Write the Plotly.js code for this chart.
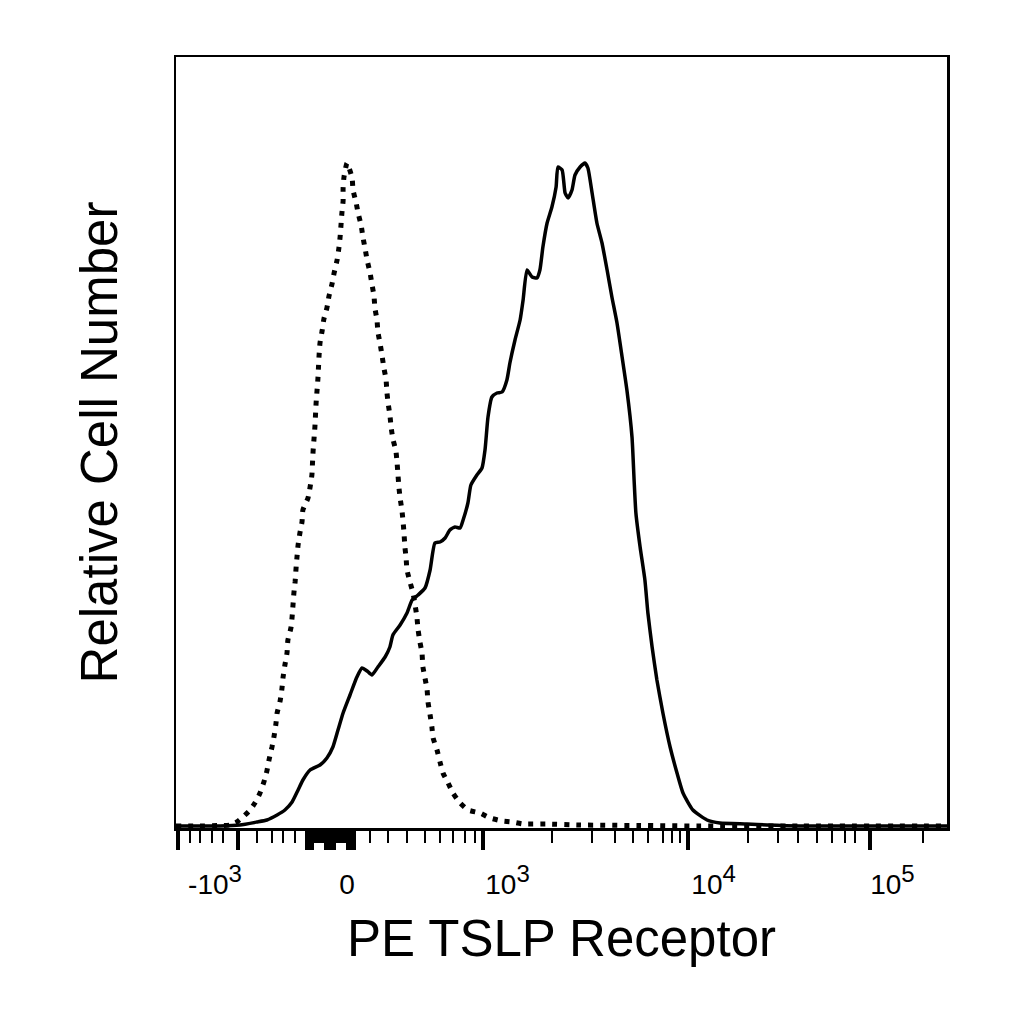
<!DOCTYPE html>
<html>
<head>
<meta charset="utf-8">
<script src="https://cdn.plot.ly/plotly-3.0.1.min.js"></script>
<style>
  html, body { margin: 0; padding: 0; background: #fff; }
  #chart { width: 1024px; height: 1024px; }
</style>
</head>
<body>
<div id="chart"></div>
<script>
// x in display channels (logicle-like scale, 0..257), y in cell counts per channel

// isotype control (dotted)
const isoX = [0, 8, 14.7, 18, 20.3, 22.3, 24.7, 26.3, 28, 29.3, 30.3, 31, 32, 32.7, 33.3, 33.7, 34.7, 35.3, 35.7, 36.3,
  37, 37.3, 38.3, 38.7, 39, 39.3, 39.7, 40, 40.3, 40.7, 41.3, 42, 42.3, 44, 44.7, 45.3, 45.5, 45.7, 46, 46.3,
  46.5, 46.7, 47, 47.3, 47.5, 47.7, 48, 48.7, 49.3, 50.3, 51, 52, 52.7, 53.7, 54.3, 54.7, 55, 55.3, 55.7, 55.7,
  56, 57, 58.7, 59, 60, 60.7, 61.7, 62.3, 63, 63.7, 64.7, 65.3, 66, 66.3, 67, 67.3, 68, 68.7, 69.3, 70,
  70.3, 70.7, 71.3, 71.7, 72.3, 73.3, 73.7, 74, 74.3, 74.7, 75.3, 75.7, 76, 76.3, 76.7, 77, 78, 79, 79.7, 80.3,
  80.7, 81.3, 82, 82.3, 83, 83.7, 84, 84.7, 85.3, 85.7, 87, 88, 89, 90.7, 92.3, 94.7, 97.3, 101.3, 104.7, 108.7,
  112, 115.7, 123.7, 134.7, 154.7, 174.7, 208, 257];
const isoY = [0.4, 0.4, 0.5, 0.6, 1.2, 2.2, 3.6, 5, 7, 9.2, 11.4, 13.6, 16.2, 18.4, 20.8, 23, 25.4, 27.8, 30.2, 32.6,
  35, 37.6, 40, 42.2, 44.6, 47, 49.2, 51.8, 54, 56.6, 59, 61.2, 63.6, 66, 68.2, 70.6, 73, 75.4, 77.8, 80.2,
  82.6, 85, 87.4, 89.8, 92.2, 94.6, 97, 99.4, 101.8, 104, 106.4, 108.8, 111, 113.6, 116, 118.2, 120.6, 123, 125.4, 128,
  130.2, 133, 130, 127.6, 125.2, 123, 120.6, 118.2, 116, 113.6, 111, 108.8, 106.4, 104, 101.6, 99.2, 97, 94.4, 92, 89.8,
  87.2, 85, 82.6, 80.2, 77.8, 75.4, 73, 70.6, 68.2, 66, 63.6, 61.2, 59, 56.2, 54, 51.6, 49.2, 47, 44.6, 42.2,
  39.6, 37.2, 35, 32.2, 30, 27.6, 25.2, 22.6, 20.2, 18, 15.6, 13.2, 11, 9, 7, 5, 3.6, 3, 2, 1.4,
  1.2, 0.8, 0.8, 0.6, 0.5, 0.4, 0.4, 0.4];

// anti-TSLP receptor stained (solid)
const stainX = [0, 14.7, 21.3, 27, 30.3, 33.7, 36.3, 38.7, 40.7, 42.3, 44.7, 48, 50.3, 52.3, 54, 55.7, 58, 60.3, 62, 63.7,
  65.3, 67.3, 69.7, 71.3, 72.3, 74.7, 77, 78.7, 80.7, 83, 84.7, 86.3, 88, 89.7, 91.3, 93, 94.7, 95.7, 97.3, 98.3,
  100.3, 102, 103, 104, 105.3, 107, 108.7, 110.3, 111.3, 113, 114.7, 115.7, 117, 118.7, 120.3, 121.3, 122.3, 123.7, 125.3, 126.7,
  127.3, 128.7, 129.7, 130.7, 132, 133, 134.7, 136.3, 137.3, 138.7, 140.3, 142, 143.7, 145.3, 147, 148.7, 150.3, 152, 152.7, 153.3,
  154.7, 156.3, 157.3, 158.7, 160.3, 162.3, 164.7, 167, 169, 172.3, 177, 181.3, 190.3, 197, 208, 257];
const stainY = [0.4, 0.4, 0.6, 1.2, 1.6, 2.6, 3.6, 5.2, 7.6, 9.6, 11.6, 12.6, 14, 16.2, 19.6, 23, 26.6, 30.2, 32, 31.4,
  30.6, 32.2, 34.2, 36.2, 38.6, 40.6, 43, 45.6, 46.6, 48, 51.6, 57, 57.2, 58, 59.6, 60.2, 60, 61.6, 65, 68.6,
  70.6, 72, 75.6, 82.2, 86.2, 87, 87.2, 89.6, 93, 97.6, 101.6, 105.6, 111.6, 110.2, 110, 111.6, 116.2, 121, 124.2, 128.2,
  132.2, 131.6, 127, 126, 127.6, 130.6, 132.2, 133, 132, 127, 121, 117, 111.6, 106.2, 101, 94.2, 87.6, 78.2, 69.6, 63,
  56.2, 49.6, 43, 36.2, 29.6, 23, 16.2, 11, 7, 3.6, 1.6, 1, 0.8, 0.6, 0.4, 0.4];

// axis decorations (channel positions of the logicle ticks)
const majorTicks = [0.7, 20.7, 43.8, 44.5, 45.2, 50, 50.7, 51.4, 52.1, 52.8, 57.2, 57.9, 58.6, 59.2,
  102.3, 170.7, 231.3];
const minorTicks = [4.7, 8, 12, 15.7, 27, 32, 35.7, 39.7,
  45.9, 46.6, 47.3, 48, 48.7, 49.4, 53.5, 54.2, 54.9, 55.6, 56.3,
  64.7, 70.7, 77, 83, 88, 92.3, 96.3, 99.7,
  125.3, 138.7, 146.3, 152.3, 157.3, 162.3, 165.3, 168,
  190.7, 200.7, 207.3, 213.7, 218.7, 223, 226.3, 249];
const labelPos = [13, 57, 110.5, 179.2, 238.8];
const labelText = ['-10<sup><span style="font-size:24px">3</span></sup>', '0',
  '10<sup><span style="font-size:24px">3</span></sup>',
  '10<sup><span style="font-size:24px">4</span></sup>',
  '10<sup><span style="font-size:24px">5</span></sup>'];

const font = 'Liberation Sans, Arial, Helvetica, sans-serif';

let data = [
  {
    x: isoX, y: isoY, type: 'scatter', mode: 'lines',
    line: { color: '#000', width: 5, dash: '5px,7px', shape: 'spline', smoothing: 0.5 },
    hoverinfo: 'skip', showlegend: false
  },
  {
    x: stainX, y: stainY, type: 'scatter', mode: 'lines',
    line: { color: '#000', width: 3.5, shape: 'spline', smoothing: 0.5 },
    hoverinfo: 'skip', showlegend: false
  },
  // empty trace so the label axis gets drawn
  { x: [], y: [], xaxis: 'x2', yaxis: 'y', type: 'scatter', mode: 'lines', hoverinfo: 'skip', showlegend: false }
];

let layout = {
  width: 1024, height: 1024,
  margin: { l: 176, r: 77, t: 57, b: 196, pad: 0 },
  paper_bgcolor: '#fff', plot_bgcolor: '#fff',
  font: { family: font, color: '#000' },
  showlegend: false,
  xaxis: {
    range: [0, 257], autorange: false,
    showline: true, mirror: true, linecolor: '#000', linewidth: 2.5,
    showgrid: false, zeroline: false,
    ticks: 'outside', tickvals: majorTicks, ticklen: 19, tickwidth: 4, tickcolor: '#000',
    showticklabels: false,
    minor: { tickvals: minorTicks, ticks: 'outside', ticklen: 12, tickwidth: 2.5, tickcolor: '#000', showgrid: false },
    title: { text: 'PE TSLP Receptor', font: { size: 51, family: font }, standoff: 72 }
  },
  xaxis2: {
    overlaying: 'x', anchor: 'y', side: 'bottom',
    range: [0, 257], autorange: false,
    showline: false, showgrid: false, zeroline: false,
    ticks: 'outside', ticklen: 31, tickcolor: 'rgba(0,0,0,0)',
    tickvals: labelPos, ticktext: labelText,
    tickfont: { size: 28, family: font, color: '#000' }
  },
  yaxis: {
    range: [0, 154.2], autorange: false,
    showline: true, mirror: true, linecolor: '#000', linewidth: 2.5,
    showgrid: false, zeroline: false, ticks: '', showticklabels: false,
    title: { text: 'Relative Cell Number', font: { size: 51, family: font }, standoff: 40 }
  }
};

Plotly.newPlot('chart', data, layout, { staticPlot: true, displayModeBar: false });
</script>
</body>
</html>
